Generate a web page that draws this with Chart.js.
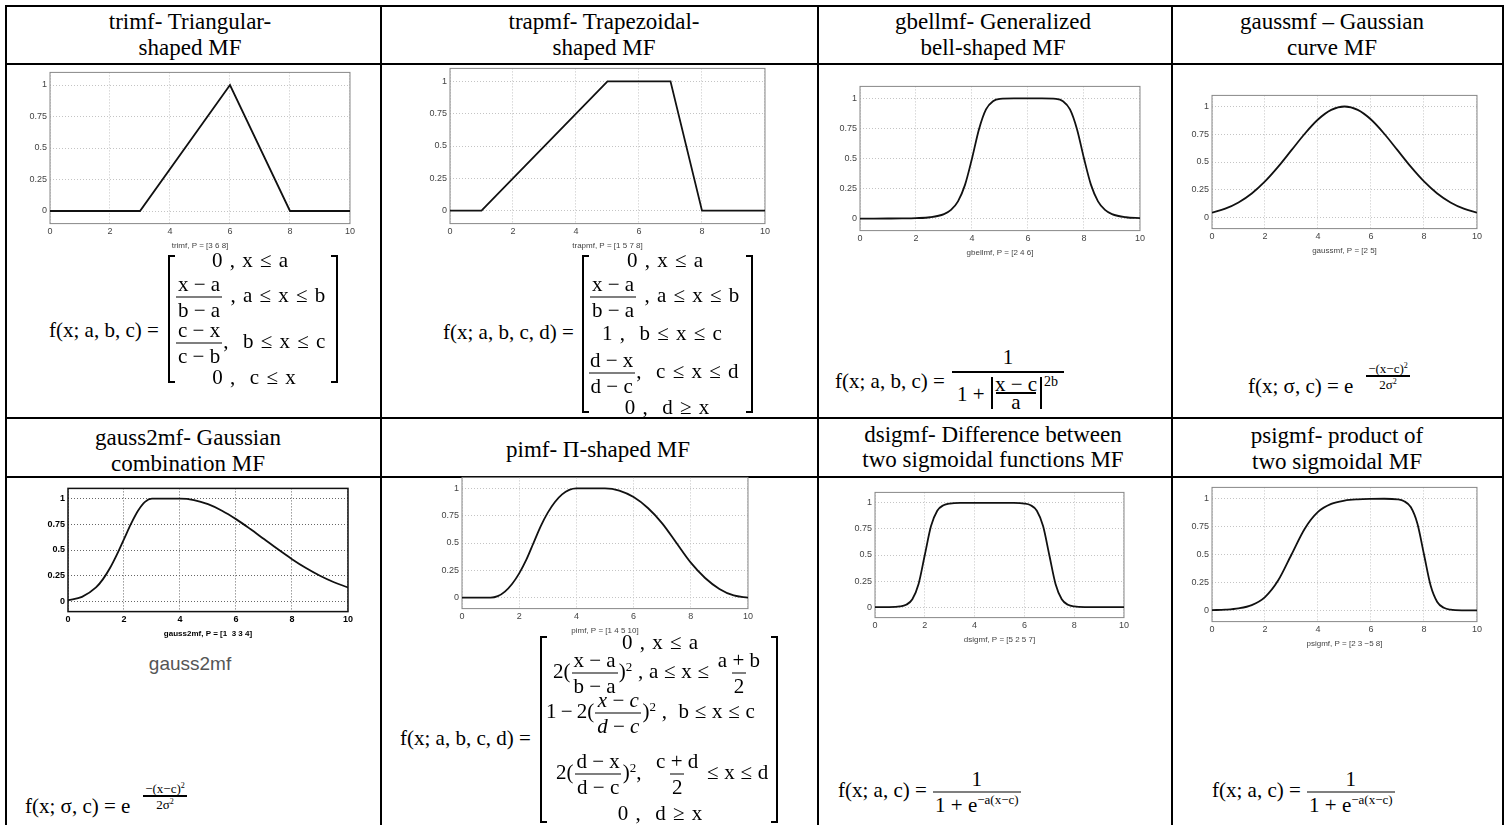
<!DOCTYPE html>
<html>
<head>
<meta charset="utf-8">
<script src="https://cdn.jsdelivr.net/npm/chart.js@4.4.1/dist/chart.umd.min.js"></script>
<style>
  html, body { margin: 0; padding: 0; background: #fff; }
  #page { position: relative; width: 1506px; height: 825px; overflow: hidden; background: #fff; }
  .tx { position: absolute; white-space: nowrap; line-height: 1; color: #000;
        font-family: "Liberation Serif", "Times New Roman", serif; }
  .tx sup { font-size: 0.62em; vertical-align: 0.55em; line-height: 0; }
  .ws { word-spacing: 2px; }
  .ws2 { word-spacing: 0.5px; }
  .fr { display: inline-flex; flex-direction: column; align-items: center; vertical-align: middle;
        line-height: 1; margin: 0 1px; word-spacing: 0; }
  .fr > span { display: block; padding: 0 2px; }
  .fr > span:first-child { padding-bottom: 2px; }
  .fr > span:last-child { border-top: 1.5px solid #000; padding-top: 2px; }
  .ln { position: absolute; background: #000; }
</style>
</head>
<body>
<div id="page"></div>
<script>
// axis ticks shared by every membership function plot
const xTicks = [0, 2, 4, 6, 8, 10];
const yTicks = [0, 0.25, 0.5, 0.75, 1];

// values
const trimfX = [0, 3, 6, 8, 10];
const trimfY = [0, 0, 1, 0, 0];

const trapmfX = [0, 1, 5, 7, 8, 10];
const trapmfY = [0, 0, 1, 1, 0, 0];

const gbellmfX = [0, 0.5, 1, 1.5, 2, 2.5, 3, 3.25, 3.5, 3.75, 4, 4.25, 4.5, 4.75, 5, 5.5, 6, 6.5, 7, 7.25, 7.5, 7.75, 8, 8.25, 8.5, 8.75, 9, 9.5, 10];
const gbellmfY = [0.0002, 0.0003, 0.0007, 0.0015, 0.0039, 0.0112, 0.0376, 0.0726, 0.1437, 0.2804, 0.5, 0.7443, 0.909, 0.977, 0.9961, 1, 1, 1, 0.9961, 0.977, 0.909, 0.7443, 0.5, 0.2804, 0.1437, 0.0726, 0.0376, 0.0112, 0.0039];

const gaussmfX = [0, 0.5, 1, 1.5, 2, 2.5, 3, 3.5, 4, 4.5, 5, 5.5, 6, 6.5, 7, 7.5, 8, 8.5, 9, 9.5, 10];
const gaussmfY = [0.0439, 0.0796, 0.1353, 0.2163, 0.3247, 0.4578, 0.6065, 0.7548, 0.8825, 0.9692, 1, 0.9692, 0.8825, 0.7548, 0.6065, 0.4578, 0.3247, 0.2163, 0.1353, 0.0796, 0.0439];

const gauss2mfX = [0, 0.5, 1, 1.25, 1.5, 1.75, 2, 2.25, 2.5, 2.75, 3, 4, 4.5, 5, 5.5, 6, 6.5, 7, 7.5, 8, 8.5, 9, 9.5, 10];
const gauss2mfY = [0.0111, 0.0439, 0.1353, 0.2163, 0.3247, 0.4578, 0.6065, 0.7548, 0.8825, 0.9692, 1, 1, 0.9862, 0.946, 0.8825, 0.8007, 0.7066, 0.6065, 0.5063, 0.4111, 0.3247, 0.2494, 0.1862, 0.1353];

const pimfX = [0, 1, 1.25, 1.5, 1.75, 2, 2.25, 2.5, 2.75, 3, 3.25, 3.5, 3.75, 4, 5, 5.5, 6, 6.5, 7, 7.5, 8, 8.5, 9, 9.5, 10];
const pimfY = [0, 0, 0.0139, 0.0556, 0.125, 0.2222, 0.3472, 0.5, 0.6528, 0.7778, 0.875, 0.9444, 0.9861, 1, 1, 0.98, 0.92, 0.82, 0.68, 0.5, 0.32, 0.18, 0.08, 0.02, 0];

const dsigmfX = [0, 0.5, 1, 1.25, 1.5, 1.75, 2, 2.25, 2.5, 2.75, 3, 3.5, 4, 5, 5.5, 6, 6.25, 6.5, 6.75, 7, 7.25, 7.5, 7.75, 8, 8.5, 9, 10];
const dsigmfY = [0, 0.0006, 0.0067, 0.023, 0.0759, 0.2227, 0.5, 0.7773, 0.9241, 0.977, 0.9933, 0.9994, 1, 1, 0.9994, 0.9933, 0.977, 0.9241, 0.7773, 0.5, 0.2227, 0.0759, 0.023, 0.0067, 0.0006, 0, 0];

const psigmfX = [0, 0.5, 1, 1.5, 2, 2.5, 3, 3.5, 4, 4.5, 5, 5.5, 6, 6.5, 7, 7.25, 7.5, 7.75, 8, 8.25, 8.5, 8.75, 9, 9.5, 10];
const psigmfY = [0.0025, 0.0067, 0.018, 0.0474, 0.1192, 0.2689, 0.5, 0.7311, 0.8808, 0.9526, 0.982, 0.9933, 0.9975, 0.9986, 0.993, 0.977, 0.924, 0.7773, 0.5, 0.2227, 0.0759, 0.023, 0.0067, 0.0006, 0];

const page = document.getElementById("page");
Chart.defaults.font.family = "'Liberation Sans', Arial, sans-serif";

// ---- table lines and text helpers ----
function line(x, y, w, h) {
  const d = document.createElement("div");
  d.className = "ln";
  d.style.left = x + "px"; d.style.top = y + "px";
  d.style.width = w + "px"; d.style.height = h + "px";
  page.appendChild(d);
}
function tx(s, x, y, o = {}) {
  const e = document.createElement("div");
  e.className = "tx" + (o.cls ? " " + o.cls : "");
  e.innerHTML = s;
  e.style.left = x + "px";
  e.style.top = y + "px";
  e.style.fontSize = (o.size || 21) + "px";
  e.style.transform = o.left ? "translate(0,-50%)" : "translate(-50%,-50%)";
  if (o.font) e.style.fontFamily = o.font;
  if (o.color) e.style.color = o.color;
  page.appendChild(e);
}
const fr = (n, d) => `<span class="fr"><span>${n}</span><span>${d}</span></span>`;
function bar(x1, x2, y) { line(x1, y, x2 - x1, 1.5); }
function bracket(xl, xr, y1, y2) {
  line(xl, y1, 2, y2 - y1); line(xl, y1, 7, 2); line(xl, y2 - 2, 7, 2);
  line(xr - 2, y1, 2, y2 - y1); line(xr - 7, y1, 7, 2); line(xr - 7, y2 - 2, 7, 2);
}

// grid
[5, 63, 417, 476].forEach(y => line(5, y, 1499, 2));
[5, 380, 817, 1171, 1502].forEach(x => line(x, 5, 2, 820));

// headers
const H = { size: 23 };
tx("trimf- Triangular-", 190, 21, H); tx("shaped MF", 190, 47, H);
tx("trapmf- Trapezoidal-", 604, 21, H); tx("shaped MF", 604, 47, H);
tx("gbellmf- Generalized", 993, 21, H); tx("bell-shaped MF", 993, 47, H);
tx("gaussmf – Gaussian", 1332, 21, H); tx("curve MF", 1332, 47, H);
tx("gauss2mf- Gaussian", 188, 437, H); tx("combination MF", 188, 463, H);
tx("pimf- Π-shaped MF", 598, 449, H);
tx("dsigmf- Difference between", 993, 434, H); tx("two sigmoidal functions MF", 993, 459, H);
tx("psigmf- product of", 1337, 435, H); tx("two sigmoidal MF", 1337, 461, H);

// ---- plots ----
function plot(s) {
  const u = s.y0 - s.y1;
  const top = s.y1 - 0.1 * u, bottom = s.y0 + 0.1 * u;
  const aw = s.r - s.l, ah = bottom - top;
  const bold = !!s.bold;
  const tickFont = { size: 9, weight: bold ? "bold" : "normal" };
  const tickColor = bold ? "#000" : "#444";
  const gridColor = bold ? "#666" : "#c4c4c4";
  const boxColor = bold ? "#111" : "#888";
  const frame = {
    id: "frame",
    beforeDatasetsDraw(c) {
      const a = c.chartArea, g = c.ctx;
      g.save();
      g.strokeStyle = boxColor;
      g.lineWidth = bold ? 1.5 : 1;
      g.strokeRect(a.left, a.top, a.right - a.left, a.bottom - a.top);
      g.restore();
    }
  };
  const axis = (ticks) => ({
    type: "linear",
    afterBuildTicks: sc => { sc.ticks = ticks.map(v => ({ value: v })); },
    ticks: { font: tickFont, color: tickColor, padding: 3, maxRotation: 0, callback: v => String(v) },
    grid: { color: gridColor, drawTicks: false, lineWidth: 1 },
    border: { display: false, dash: [1, 2] }
  });
  const cfg = () => {
    const x = axis(xTicks), y = axis(yTicks);
    x.min = 0; x.max = 10;
    x.title = { display: true, text: s.title, color: tickColor,
                font: { size: 8, weight: bold ? "bold" : "normal" }, padding: { top: 1, bottom: 0 } };
    y.min = -0.1; y.max = 1.1;
    y.afterFit = sc => { sc.width = 30; };
    return {
      type: "line",
      data: { datasets: [{
        data: s.xs.map((v, i) => ({ x: v, y: s.ys[i] })),
        borderColor: "#111", borderWidth: 1.8, pointRadius: 0, fill: false,
        tension: s.smooth ? 0.4 : 0,
        cubicInterpolationMode: s.smooth ? "monotone" : "default"
      }] },
      options: {
        responsive: false, animation: false, events: [],
        layout: { padding: 0 },
        plugins: { legend: { display: false }, tooltip: { enabled: false } },
        scales: { x, y }
      },
      plugins: [frame]
    };
  };
  // first pass measures the space around the plot area, second pass places it
  let cv = document.createElement("canvas");
  cv.width = Math.round(aw + 60); cv.height = Math.round(ah + 40);
  cv.style.position = "absolute";
  page.appendChild(cv);
  let ch = new Chart(cv, cfg());
  const a = ch.chartArea;
  const dl = a.left, dt = a.top, dr = cv.width - a.right, db = cv.height - a.bottom;
  ch.destroy(); cv.remove();
  cv = document.createElement("canvas");
  cv.width = Math.round(aw + dl + dr); cv.height = Math.round(ah + dt + db);
  cv.style.position = "absolute";
  cv.style.left = Math.round(s.l - dl) + "px";
  cv.style.top = Math.round(top - dt) + "px";
  page.appendChild(cv);
  new Chart(cv, cfg());
}

plot({ xs: trimfX, ys: trimfY, title: "trimf, P = [3 6 8]", l: 50, r: 350, y1: 85, y0: 211 });
plot({ xs: trapmfX, ys: trapmfY, title: "trapmf, P = [1 5 7 8]", l: 450, r: 765, y1: 81, y0: 210 });
plot({ xs: gbellmfX, ys: gbellmfY, title: "gbellmf, P = [2 4 6]", l: 860, r: 1140, y1: 98, y0: 218, smooth: true });
plot({ xs: gaussmfX, ys: gaussmfY, title: "gaussmf, P = [2 5]", l: 1212, r: 1477, y1: 106, y0: 217, smooth: true });
plot({ xs: gauss2mfX, ys: gauss2mfY, title: "gauss2mf, P = [1  3 3 4]", l: 68, r: 348, y1: 499, y0: 602, smooth: true, bold: true });
plot({ xs: pimfX, ys: pimfY, title: "pimf, P = [1 4 5 10]", l: 462, r: 748, y1: 488, y0: 597, smooth: true });
plot({ xs: dsigmfX, ys: dsigmfY, title: "dsigmf, P = [5 2 5 7]", l: 875, r: 1124, y1: 503, y0: 607, smooth: true });
plot({ xs: psigmfX, ys: psigmfY, title: "psigmf, P = [2 3 −5 8]", l: 1212, r: 1477, y1: 499, y0: 611, smooth: true });

// ---- formulas ----
const L = { left: true };
const LW = { left: true, cls: "ws" };
const LW2 = { left: true, cls: "ws2" };

// trimf
tx("f(x; a, b, c) =", 49, 330, L);
bracket(168, 338, 255, 383);
tx("0 , x ≤ a", 250, 260, { cls: "ws" });
tx(fr("x − a", "b − a") + " , a ≤ x ≤ b", 175, 297, LW);
tx(fr("c − x", "c − b") + ",&nbsp; b ≤ x ≤ c", 175, 343, LW);
tx("0 ,&nbsp; c ≤ x", 254, 377, { cls: "ws" });

// trapmf
tx("f(x; a, b, c, d) =", 443, 332, L);
bracket(582, 753, 255, 413);
tx("0 , x ≤ a", 665, 260, { cls: "ws" });
tx(fr("x − a", "b − a") + " , a ≤ x ≤ b", 589, 297, LW);
tx("1 ,&nbsp; b ≤ x ≤ c", 662, 333, { cls: "ws" });
tx(fr("d − x", "d − c") + ",&nbsp; c ≤ x ≤ d", 587, 373, LW);
tx("0 ,&nbsp; d ≥ x", 667, 407, { cls: "ws" });

// gbellmf
tx("f(x; a, b, c) =", 835, 381, L);
tx("1", 1008, 357); bar(952, 1064, 371);
tx("1 +", 957, 394, L);
line(991, 377, 1.5, 32);
tx("x − c", 1016, 384); bar(996, 1036, 392); tx("a", 1016, 402);
line(1040, 377, 1.5, 32);
tx("2b", 1044, 382, { left: true, size: 14 });

// gaussmf
tx("f(x; σ, c) = e", 1248, 386, L);
tx("−(x−c)<sup>2</sup>", 1388, 368, { size: 13 });
bar(1366, 1410, 375);
tx("2σ<sup>2</sup>", 1388, 384, { size: 13 });

// gauss2mf
tx("gauss2mf", 190, 663, { size: 19, font: "'Liberation Sans', Arial, sans-serif", color: "#555" });
tx("f(x; σ, c) = e", 25, 806, L);
tx("−(x−c)<sup>2</sup>", 165, 788, { size: 13 });
bar(143, 187, 795);
tx("2σ<sup>2</sup>", 165, 804, { size: 13 });

// pimf
tx("f(x; a, b, c, d) =", 400, 738, L);
bracket(540, 778, 636, 823);
tx("0 , x ≤ a", 660, 642, { cls: "ws" });
tx("2(" + fr("x − a", "b − a") + ")<sup>2</sup> , a ≤ x ≤ " + fr("a + b", "2"), 553, 673, LW2);
tx("1&thinsp;−&thinsp;2(" + fr("<i>x</i> − <i>c</i>", "<i>d</i> − <i>c</i>") + ")<sup>2</sup> ,&nbsp; b ≤ x ≤ c", 546, 713, LW2);
tx("2(" + fr("d − x", "d − c") + ")<sup>2</sup>,&nbsp; " + fr("c + d", "2") + " ≤ x ≤ d", 556, 774, LW2);
tx("0 ,&nbsp; d ≥ x", 660, 813, { cls: "ws" });

// dsigmf
tx("f(x; a, c) = " + fr("1", "1 + e<sup>−a(x−c)</sup>"), 838, 792, L);

// psigmf
tx("f(x; a, c) = " + fr("1", "1 + e<sup>−a(x−c)</sup>"), 1212, 792, L);
</script>
</body>
</html>
